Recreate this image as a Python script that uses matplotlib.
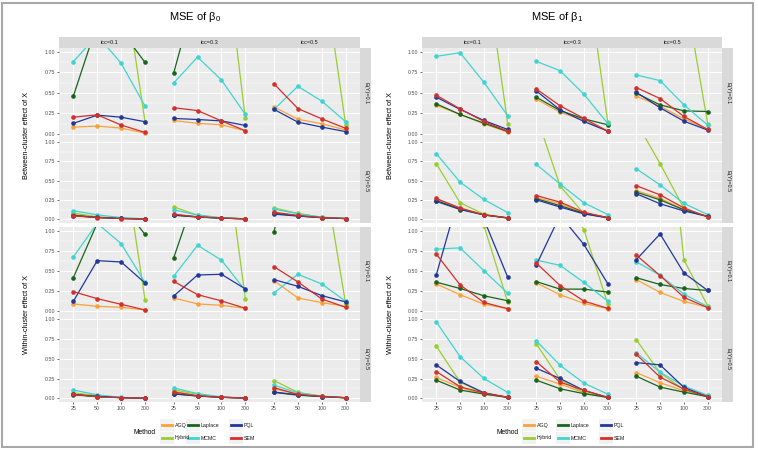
import matplotlib
matplotlib.use("Agg")
import matplotlib.pyplot as plt
from matplotlib.patches import Rectangle
from matplotlib.lines import Line2D

plt.rcParams['font.family'] = ['Liberation Sans', 'DejaVu Sans']
plt.rcParams['mathtext.default'] = 'regular'

methods = ["AGQ", "Hybrid", "Laplace", "MCMC", "PQL", "SEM"]
method_colors = ["#F9A23C", "#9ACD32", "#17651C", "#40D4D0", "#22379A", "#D2302A"]
sizes = ["25", "50", "100", "300"]
iccs = ["icc=0.1", "icc=0.3", "icc=0.5"]
ey_labels = ["E(Y)=0.1", "E(Y)=0.5"]

# one row per method (order of `methods`), 12 values each:
# icc=0.1 | icc=0.3 | icc=0.5, each over sizes 25, 50, 100, 300.
# values above 1 are the lines that run off the top of the panel.

# ---- MSE of beta0 ----
b0_between_ey01 = [
    [0.085, 0.097, 0.073, 0.012, 0.165, 0.13, 0.113, 0.04, 0.33, 0.18, 0.125, 0.05],
    [3.0, 2.6, 2.1, 0.15, 3.0, 2.9, 2.6, 0.19, 2.6, 2.4, 2.14, 0.11],
    [0.46, 1.34, 1.26, 0.87, 0.74, 1.8, 2.0, 1.6, 1.8, 1.7, 1.6, 1.5],
    [0.88, 1.2, 0.86, 0.34, 0.62, 0.935, 0.657, 0.24, 0.30, 0.58, 0.40, 0.15],
    [0.13, 0.23, 0.205, 0.15, 0.19, 0.177, 0.16, 0.105, 0.30, 0.145, 0.085, 0.03],
    [0.205, 0.234, 0.11, 0.02, 0.32, 0.286, 0.16, 0.04, 0.61, 0.31, 0.185, 0.07],
]
b0_between_ey05 = [
    [0.06, 0.025, 0.01, 0.003, 0.06, 0.03, 0.015, 0.004, 0.08, 0.045, 0.02, 0.008],
    [0.08, 0.03, 0.01, 0.003, 0.16, 0.05, 0.015, 0.004, 0.146, 0.075, 0.025, 0.008],
    [0.05, 0.022, 0.009, 0.002, 0.05, 0.028, 0.013, 0.004, 0.075, 0.042, 0.02, 0.007],
    [0.11, 0.056, 0.02, 0.005, 0.12, 0.055, 0.018, 0.005, 0.13, 0.07, 0.025, 0.008],
    [0.045, 0.022, 0.009, 0.002, 0.055, 0.028, 0.013, 0.004, 0.065, 0.04, 0.019, 0.007],
    [0.043, 0.02, 0.008, 0.002, 0.065, 0.03, 0.014, 0.004, 0.09, 0.048, 0.02, 0.008],
]
b0_within_ey01 = [
    [0.092, 0.0625, 0.05, 0.017, 0.167, 0.092, 0.075, 0.0375, 0.383, 0.167, 0.108, 0.0625],
    [3.0, 2.6, 2.13, 0.146, 3.0, 2.8, 2.4, 0.158, 2.4, 2.2, 1.9, 0.09],
    [0.42, 1.1, 1.35, 0.96, 0.667, 1.54, 1.8, 1.5, 0.99, 2.4, 2.2, 2.0],
    [0.68, 1.1, 0.846, 0.36, 0.4375, 0.825, 0.64, 0.26, 0.23, 0.4625, 0.342, 0.125],
    [0.125, 0.633, 0.617, 0.354, 0.19, 0.454, 0.4625, 0.28, 0.396, 0.3125, 0.196, 0.117],
    [0.246, 0.158, 0.0875, 0.017, 0.375, 0.208, 0.13, 0.0375, 0.558, 0.367, 0.154, 0.05],
]
b0_within_ey05 = [
    [0.055, 0.025, 0.01, 0.002, 0.09, 0.035, 0.015, 0.004, 0.12, 0.055, 0.025, 0.008],
    [0.07, 0.035, 0.01, 0.002, 0.11, 0.05, 0.015, 0.004, 0.225, 0.075, 0.028, 0.008],
    [0.045, 0.022, 0.009, 0.002, 0.055, 0.03, 0.013, 0.004, 0.075, 0.04, 0.022, 0.007],
    [0.105, 0.045, 0.012, 0.003, 0.133, 0.06, 0.018, 0.005, 0.165, 0.07, 0.027, 0.008],
    [0.05, 0.024, 0.009, 0.002, 0.06, 0.03, 0.013, 0.004, 0.08, 0.045, 0.023, 0.007],
    [0.05, 0.02, 0.008, 0.002, 0.08, 0.032, 0.014, 0.004, 0.135, 0.05, 0.024, 0.008],
]

# ---- MSE of beta1 ----
b1_between_ey01 = [
    [0.35, 0.238, 0.125, 0.024, 0.423, 0.266, 0.165, 0.036, 0.46, 0.339, 0.185, 0.06],
    [3.0, 2.6, 2.18, 0.125, 3.0, 2.7, 2.2, 0.15, 2.4, 2.1, 1.8, 0.125],
    [0.367, 0.238, 0.133, 0.032, 0.448, 0.286, 0.185, 0.113, 0.496, 0.355, 0.282, 0.274],
    [0.944, 0.988, 0.629, 0.222, 0.883, 0.77, 0.484, 0.13, 0.718, 0.649, 0.355, 0.109],
    [0.448, 0.30, 0.165, 0.056, 0.524, 0.294, 0.153, 0.036, 0.508, 0.319, 0.157, 0.048],
    [0.472, 0.306, 0.153, 0.036, 0.548, 0.343, 0.19, 0.036, 0.565, 0.431, 0.214, 0.056],
]
b1_between_ey05 = [
    [0.255, 0.14, 0.06, 0.017, 0.28, 0.20, 0.08, 0.02, 0.37, 0.27, 0.125, 0.035],
    [0.72, 0.213, 0.064, 0.017, 1.35, 0.43, 0.07, 0.02, 1.26, 0.72, 0.14, 0.03],
    [0.23, 0.125, 0.055, 0.015, 0.265, 0.175, 0.075, 0.02, 0.35, 0.25, 0.12, 0.035],
    [0.85, 0.48, 0.255, 0.085, 0.71, 0.455, 0.213, 0.06, 0.655, 0.443, 0.204, 0.06],
    [0.24, 0.13, 0.055, 0.015, 0.25, 0.157, 0.068, 0.017, 0.33, 0.2, 0.106, 0.035],
    [0.268, 0.145, 0.055, 0.017, 0.306, 0.221, 0.089, 0.02, 0.434, 0.315, 0.145, 0.03],
]
b1_within_ey01 = [
    [0.343, 0.207, 0.09, 0.033, 0.355, 0.207, 0.10, 0.033, 0.397, 0.235, 0.124, 0.05],
    [2.0, 1.6, 1.07, 0.116, 2.0, 1.5, 1.02, 0.095, 3.5, 3.4, 0.645, 0.066],
    [0.364, 0.285, 0.194, 0.132, 0.372, 0.277, 0.277, 0.24, 0.42, 0.335, 0.285, 0.26],
    [0.777, 0.793, 0.508, 0.227, 0.64, 0.574, 0.36, 0.128, 0.62, 0.45, 0.215, 0.058],
    [0.455, 1.5, 1.15, 0.426, 0.578, 1.2, 0.835, 0.347, 0.645, 0.967, 0.479, 0.26],
    [0.715, 0.33, 0.11, 0.033, 0.603, 0.322, 0.128, 0.037, 0.702, 0.446, 0.174, 0.045],
]
b1_within_ey05 = [
    [0.264, 0.138, 0.054, 0.013, 0.28, 0.18, 0.071, 0.013, 0.326, 0.197, 0.096, 0.021],
    [0.661, 0.205, 0.063, 0.013, 0.69, 0.238, 0.067, 0.013, 0.74, 0.322, 0.109, 0.025],
    [0.23, 0.105, 0.054, 0.012, 0.23, 0.121, 0.059, 0.012, 0.28, 0.142, 0.079, 0.021],
    [0.967, 0.527, 0.251, 0.075, 0.728, 0.418, 0.192, 0.054, 0.577, 0.33, 0.155, 0.038],
    [0.423, 0.213, 0.071, 0.013, 0.38, 0.251, 0.10, 0.013, 0.452, 0.423, 0.138, 0.021],
    [0.339, 0.146, 0.067, 0.013, 0.464, 0.205, 0.10, 0.013, 0.556, 0.268, 0.117, 0.021],
]

W, H = 758, 450
fig = plt.figure(figsize=(W / 100, H / 100), dpi=100)


def fbox(x0, y0, x1, y1):
    # pixel box (top-left origin) -> figure fraction
    return [x0 / W, 1 - y1 / H, (x1 - x0) / W, (y1 - y0) / H]


rows_px = [(47.6, 138.2), (138.2, 223.0), (227.3, 315.3), (315.3, 402.3)]
strip_top = 37.0
strip_gray = "#D9D9D9"
grid_y = [0, 0.25, 0.5, 0.75, 1.0]
minor_y = [0.125, 0.375, 0.625, 0.875]


def strip(box, text, rot=0):
    sax = fig.add_axes(box)
    sax.set_facecolor(strip_gray)
    sax.set_xticks([])
    sax.set_yticks([])
    for s in sax.spines.values():
        s.set_visible(False)
    sax.text(0.5, 0.5, text, ha="center", va="center", rotation=rot,
             fontsize=4, color="#1A1A1A", transform=sax.transAxes)


def draw_side(px0, px1, title, title_x, ytitle_x, row_data, legend_x, key_x):
    pw = (px1 - px0) / 3
    xs = [1, 2, 3, 4]
    for r, data in enumerate(row_data):
        y0, y1 = rows_px[r]
        for c in range(3):
            ax = fig.add_axes(fbox(px0 + c * pw, y0, px0 + (c + 1) * pw, y1))
            ax.set_facecolor("#EBEBEB")
            for s in ax.spines.values():
                s.set_visible(False)
            for gy in minor_y:
                ax.axhline(gy, color="white", lw=0.35, zorder=0)
            for gy in grid_y:
                ax.axhline(gy, color="white", lw=0.7, zorder=0)
            for gx in xs:
                ax.axvline(gx, color="white", lw=0.7, zorder=0)
            for i, m in enumerate(methods):
                vals = data[i][c * 4:(c + 1) * 4]
                ax.plot(xs, vals, color=method_colors[i], lw=0.9, marker="o",
                        ms=2.3, zorder=2 + i)
            ax.set_xlim(0.4, 4.6)
            ax.set_ylim(-0.05, 1.05)
            ax.set_xticks(xs)
            ax.set_yticks(grid_y)
            ax.tick_params(length=1.5, width=0.5, color="#333333", labelsize=3.8,
                           labelcolor="#4D4D4D", pad=1.2)
            if c == 0:
                ax.set_yticklabels(["0.00", "0.25", "0.50", "0.75", "1.00"])
            else:
                ax.tick_params(axis="y", left=False, labelleft=False)
            if r == 3:
                ax.set_xticklabels(sizes)
            else:
                ax.tick_params(axis="x", bottom=False, labelbottom=False)
            if r == 0:
                strip(fbox(px0 + c * pw, strip_top, px0 + (c + 1) * pw, y0), iccs[c])
        strip(fbox(px1, y0, px1 + 11, y1), ey_labels[r % 2], rot=270)

    fig.text(title_x / W, 1 - 17 / H, title, ha="center", va="center", fontsize=8)
    fig.text(ytitle_x / W, 1 - (rows_px[0][0] + rows_px[1][1]) / 2 / H,
             "Between-cluster effect of X", rotation=90, ha="center", va="center",
             fontsize=5.3)
    fig.text(ytitle_x / W, 1 - (rows_px[2][0] + rows_px[3][1]) / 2 / H,
             "Within-cluster effect of X", rotation=90, ha="center", va="center",
             fontsize=5.3)

    # legend: two rows, filled column by column
    fig.text(legend_x / W, 1 - 432 / H, "Method", ha="center", va="center", fontsize=4.8)
    for i, m in enumerate(methods):
        col, row = i // 2, i % 2
        kx = key_x[col]
        ky = 419 + row * 13
        fig.add_artist(Rectangle((kx / W, 1 - (ky + 12) / H), 14 / W, 12 / H,
                                 transform=fig.transFigure, facecolor="#F2F2F2",
                                 edgecolor="none"))
        fig.add_artist(Line2D([(kx + 2) / W, (kx + 12) / W],
                              [1 - (ky + 6) / H, 1 - (ky + 6) / H],
                              transform=fig.transFigure, color=method_colors[i], lw=2))
        fig.text((kx + 15) / W, 1 - (ky + 6) / H, m, ha="left", va="center",
                 fontsize=3.8, color="#1A1A1A")


draw_side(59, 360, r"MSE of $\beta_0$", 195, 27,
          [b0_between_ey01, b0_between_ey05, b0_within_ey01, b0_within_ey05],
          145, [160, 186, 229])
draw_side(422, 722, r"MSE of $\beta_1$", 557, 390,
          [b1_between_ey01, b1_between_ey05, b1_within_ey01, b1_within_ey05],
          507, [522, 556, 599])

# grey frame around the whole figure
fig.add_artist(Rectangle((2 / W, 3 / H), 751 / W, 444 / H, fill=False,
                         edgecolor="#A8A8A8", lw=1.5, transform=fig.transFigure))

fig.savefig("out.png", dpi=100)
